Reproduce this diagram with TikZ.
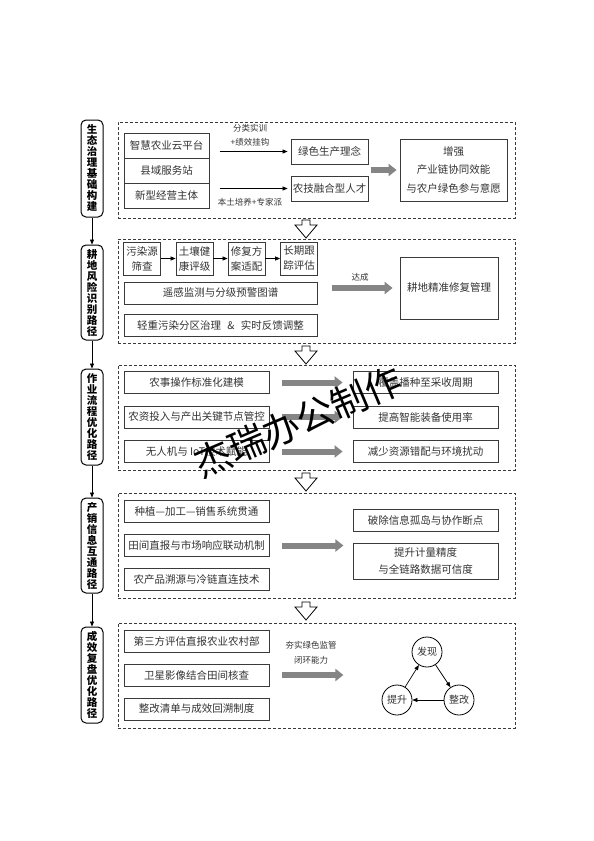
\documentclass[tikz,border=0pt]{standalone}
\usepackage{fontspec}
\setmainfont{Noto Sans CJK SC}
\usetikzlibrary{arrows.meta,calc}
\definecolor{txt}{HTML}{333333}
\definecolor{ln}{HTML}{3A3A3A}
\definecolor{garr}{HTML}{858585}
\begin{document}
\begin{tikzpicture}[x=1pt,y=-1pt,
 box/.style={draw=ln,line width=0.8pt,inner sep=1pt,font=\fontsize{10.5}{12}\selectfont,text=txt,align=center},
 frame/.style={draw=ln,line width=0.9pt,dash pattern=on 3pt off 2pt,minimum width=397pt},
 lab/.style={draw=black,line width=1pt,rounded corners=5pt,minimum width=22pt,font=\bfseries\fontsize{10.5}{11}\selectfont,align=center,inner sep=0pt},
 tarrow/.style={-{Triangle[length=5pt,width=4pt]},line width=0.7pt,draw=black},
 garrow/.style={draw=garr,line width=6pt,-{Triangle[length=8pt,width=12pt]}},
 small/.style={font=\fontsize{8.5}{9}\selectfont,text=txt,inner sep=0pt},
 circ/.style={circle,draw=black,line width=0.8pt,minimum size=30pt,inner sep=0pt,font=\fontsize{10}{12}\selectfont,text=txt},
 hollow/.pic={\draw[draw=black,line width=0.8pt,fill=white] (-4,0)--(4,0)--(4,5)--(11,5)--(0,18)--(-11,5)--(-4,5)--cycle;}
 ]
\fill[white] (0,0) rectangle (594,841);
\useasboundingbox (0,0) rectangle (594,841);

% frames
\node[frame,minimum height=96pt] (F1) at (316.5,170) {};
\node[frame,minimum height=104pt] (F2) at (316.5,291) {};
\node[frame,minimum height=105pt] (F3) at (316.5,417.5) {};
\node[frame,minimum height=105pt] (F4) at (316.5,545.5) {};
\node[frame,minimum height=105pt] (F5) at (316.5,675.5) {};

% hollow arrows
\pic at (306,220) {hollow};
\pic at (306,346) {hollow};
\pic at (306,473) {hollow};
\pic at (306,602) {hollow};

% left labels
\node[lab,minimum height=97pt] (L1) at (92,168.5) {生\\态\\治\\理\\基\\础\\构\\建};
\node[lab,minimum height=95pt] (L2) at (92,292.5) {耕\\地\\风\\险\\识\\别\\路\\径};
\node[lab,minimum height=96pt] (L3) at (92,417) {作\\业\\流\\程\\优\\化\\路\\径};
\node[lab,minimum height=95pt] (L4) at (92,545.5) {产\\销\\信\\息\\互\\通\\路\\径};
\node[lab,minimum height=96pt] (L5) at (92,675) {成\\效\\复\\盘\\优\\化\\路\\径};
\draw[tarrow] (L1.south) -- (L2.north);
\draw[tarrow] (L2.south) -- (L3.north);
\draw[tarrow] (L3.south) -- (L4.north);
\draw[tarrow] (L4.south) -- (L5.north);

% ---- frame 1
\node[box,minimum width=85pt,minimum height=25pt] (s1) at (166.5,145.5) {智慧农业云平台};
\node[box,minimum width=85pt,minimum height=25pt] (s2) at (166.5,170.5) {县域服务站};
\node[box,minimum width=85pt,minimum height=25pt] (s3) at (166.5,195.5) {新型经营主体};
\node[box,minimum width=77pt,minimum height=25pt] (g1) at (329.5,151.5) {绿色生产理念};
\node[box,minimum width=77pt,minimum height=25pt] (g2) at (329.5,188.5) {农技融合型人才};
\node[box,minimum width=107pt,minimum height=62pt,font=\fontsize{10.5}{18.5}\selectfont] (r1) at (453.5,170) {增强\\产业链协同效能\\与农户绿色参与意愿};
\node[small] (t1) at (250,128) {分类实训};
\node[small] (t2) at (250,142) {+绩效挂钩};
\node[small] (t3) at (250,202) {本土培养+专家派};
\draw[tarrow,shorten >=3pt] ([xshift=-71pt]g1.west) -- (g1.west);
\draw[tarrow,shorten >=3pt] ([xshift=-71pt]g2.west) -- (g2.west);
\draw[garrow] ([xshift=-29pt]r1.west) -- ([xshift=-3pt]r1.west);

% ---- frame 2
\node[box,minimum width=37pt,minimum height=33pt,font=\fontsize{10.5}{15}\selectfont] (a1) at (142,258.5) {污染源\\筛查};
\node[box,minimum width=37pt,minimum height=33pt,font=\fontsize{10.5}{15}\selectfont] (a2) at (194.5,258.5) {土壤健\\康评级};
\node[box,minimum width=37pt,minimum height=33pt,font=\fontsize{10.5}{15}\selectfont] (a3) at (246.5,258.5) {修复方\\案适配};
\node[box,minimum width=37pt,minimum height=33pt,font=\fontsize{10.5}{15}\selectfont] (a4) at (299,258.5) {长期跟\\踪评估};
\draw[tarrow] (a1.east) -- (a2.west);
\draw[tarrow] (a2.east) -- (a3.west);
\draw[tarrow] (a3.east) -- (a4.west);
\node[box,minimum width=193pt,minimum height=22pt] (b1) at (220.5,293) {遥感监测与分级预警图谱};
\node[box,minimum width=193pt,minimum height=22pt] (b2) at (220.5,325) {轻重污染分区治理\hspace{0.6em}\&\hspace{0.6em}实时反馈调整};
\node[box,minimum width=98pt,minimum height=62pt] (r2) at (449,288) {耕地精准修复管理};
\node[small] (t4) at (360,277) {达成};
\draw[garrow] ([xshift=-68pt]r2.west) -- ([xshift=-7pt]r2.west);

% ---- frame 3
\node[box,minimum width=145pt,minimum height=22pt] (c1) at (196.5,382.5) {农事操作标准化建模};
\node[box,minimum width=145pt,minimum height=22pt] (c2) at (196.5,417) {农资投入与产出关键节点管控};
\node[box,minimum width=145pt,minimum height=22pt] (c3) at (196.5,451.5) {无人机与 IoT技术赋能};
\node[box,minimum width=145pt,minimum height=22pt] (d1) at (425.5,382.5) {覆盖播种至采收周期};
\node[box,minimum width=145pt,minimum height=22pt] (d2) at (425.5,417) {提高智能装备使用率};
\node[box,minimum width=145pt,minimum height=22pt] (d3) at (425.5,451.5) {减少资源错配与环境扰动};
\draw[garrow] ([xshift=13pt]c1.east) -- ([xshift=-10pt]d1.west);
\draw[garrow] ([xshift=13pt]c2.east) -- ([xshift=-10pt]d2.west);
\draw[garrow] ([xshift=13pt]c3.east) -- ([xshift=-10pt]d3.west);

% ---- frame 4
\node[box,minimum width=145pt,minimum height=22pt] (e1) at (196.5,511.5) {种植—加工—销售系统贯通};
\node[box,minimum width=145pt,minimum height=22pt] (e2) at (196.5,545.5) {田间直报与市场响应联动机制};
\node[box,minimum width=145pt,minimum height=22pt] (e3) at (196.5,579.5) {农产品溯源与冷链直连技术};
\node[box,minimum width=145pt,minimum height=22pt] (f1) at (425.5,520) {破除信息孤岛与协作断点};
\node[box,minimum width=145pt,minimum height=36pt,font=\fontsize{10.5}{17}\selectfont] (f2) at (425.5,561) {提升计量精度\\与全链路数据可信度};
\draw[garrow] ([xshift=13pt]e2.east) -- ([xshift=74pt]e2.east);

% ---- frame 5
\node[box,minimum width=145pt,minimum height=22pt] (h1) at (196.5,641) {第三方评估直报农业农村部};
\node[box,minimum width=145pt,minimum height=22pt] (h2) at (196.5,675) {卫星影像结合田间核查};
\node[box,minimum width=145pt,minimum height=22pt] (h3) at (196.5,709) {整改清单与成效回溯制度};
\node[small] (t5) at (311,645) {夯实绿色监管};
\node[small] (t6) at (311,660) {闭环能力};
\draw[garrow] ([xshift=13pt]h2.east) -- ([xshift=74pt]h2.east);
\node[circ] (fx) at (427,652) {发现};
\node[circ] (zg) at (459,700) {整改};
\node[circ] (ts) at (397,700) {提升};
\draw[tarrow] (fx) -- (zg);
\draw[tarrow] (zg) -- (ts);
\draw[tarrow] (ts) -- (fx);

% watermark
\node[rotate=23,font=\fontsize{37}{37}\selectfont,text=black,inner sep=0pt] (wm) at (298,422) {杰瑞办公制作};
\end{tikzpicture}
\end{document}
